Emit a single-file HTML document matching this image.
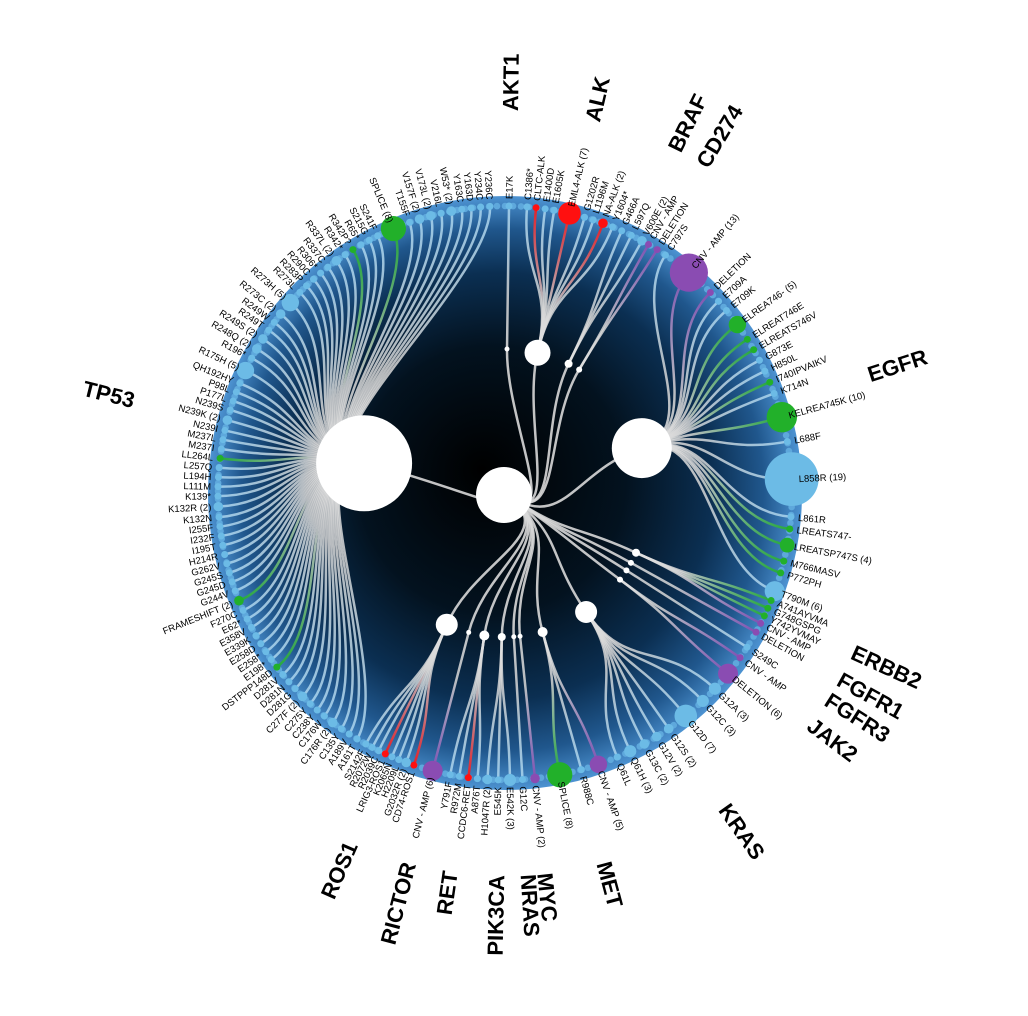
<!DOCTYPE html>
<html><head><meta charset="utf-8"><title>Mutation radial tree</title>
<style>
html,body{margin:0;padding:0;background:#fff;}
svg{display:block;font-family:"Liberation Sans",Arial,sans-serif;}
</style></head>
<body>
<svg id="chart" width="1028" height="1016" viewBox="0 0 1028 1016" xmlns="http://www.w3.org/2000/svg">
<defs>
<radialGradient id="bgGrad" cx="50%" cy="50%" r="50%" fx="46%" fy="46%">
<stop offset="0" stop-color="#000000"/>
<stop offset="0.45" stop-color="#03121f"/>
<stop offset="0.72" stop-color="#0b2f52"/>
<stop offset="0.88" stop-color="#20578d"/>
<stop offset="1" stop-color="#4d93d2"/>
</radialGradient>
</defs>
<circle cx="505" cy="493" r="297" fill="url(#bgGrad)"/>
<g id="beads"></g><g id="links"></g><g id="nodes"></g><g id="labels"></g>
</svg>
<script>
const genes = ["AKT1","ALK","BRAF","CD274","EGFR","ERBB2","FGFR1","FGFR3","JAK2","KRAS","MET","MYC","NRAS","PIK3CA","RET","RICTOR","ROS1","TP53"];
const geneWeight = [2.5,13,4,3,30,4,3,3,3,11,5,2.5,2.5,4,5,2.5,11,48];
const leafNames = [
 ["E17K"],
 ["C1386*","CLTC-ALK","E1400D","E1605K","EML4-ALK","G1202R","L1196M","NA-ALK","Y1604*"],
 ["G466A","L597Q","V600E"],
 ["CNV - AMP","DELETION"],
 ["C797S","CNV - AMP","DELETION","E709A","E709K","ELREA746-","ELREAT746E","ELREATS746V","G873E","H850L","I740IPVAIKV","K714N","KELREA745K","L688F","L858R","L861R","LREATS747-","LREATSP747S","M766MASV","P772PH","T790M"],
 ["A741AYVMA","G748GSPG","Y742YVMAY","CNV - AMP"],
 ["DELETION"],
 ["S249C"],
 ["CNV - AMP","DELETION"],
 ["G12A","G12C","G12D","G12S","G12V","G13C","Q61H","Q61L"],
 ["CNV - AMP","R988C","SPLICE"],
 ["CNV - AMP"],
 ["G12C"],
 ["E542K","E545K","H1047R"],
 ["A876T","CCDC6-RET","R972M","Y791F"],
 ["CNV - AMP"],
 ["CD74-ROS1","G2032R","H2209L","K2065N","LRIG3-ROS1","R2039C","R2072W","S2142F"],
 ["A161T","A189V","C135Y","C176R","C176W","C238Y","C275Y","C277F","D281G","D281N","D281V","DSTPPP148D","E198*","E258*","E258D","E339K","E358V","E62*","F270C","FRAMESHIFT","G244V","G245D","G245S","G262V","H214R","I195T","I232F","I255F","K132N","K132R","K139*","L111M","L194H","L257Q","LL264L","M237I","M237L","N239I","N239K","N239S","P177L","P98L","QH192HY","R175H","R196*","R248Q","R249S","R249T","R249W","R273C","R273H","R273L","R283P","R290C","R306*","R337C","R337L","R342*","R342P?","R65*","S215G","S241F","SPLICE","T155F","V157F","V173L","V216L","W53*","Y163C","Y163D","Y234C","Y236C"]
];
const leafCounts = [
 [1],
 [1,1,1,1,7,1,1,2,1],
 [1,1,2],
 [1,1],
 [1,13,1,1,1,5,1,1,1,1,1,1,10,1,19,1,1,4,1,1,6],
 [1,1,1,1],
 [1],
 [1],
 [1,6],
 [3,3,7,2,2,2,3,1],
 [5,1,8],
 [2],
 [1],
 [3,1,2],
 [1,1,1,1],
 [6],
 [1,2,1,1,1,1,1,1],
 [1,1,1,2,1,1,1,2,1,1,1,1,1,1,1,1,1,1,1,2,1,1,1,1,1,1,1,1,1,2,1,1,1,1,1,1,1,1,2,1,1,1,1,5,1,2,2,1,1,2,5,1,1,1,1,1,2,1,1,1,1,1,8,1,2,2,1,2,1,1,1,1]
];
const indelNames = ["SPLICE","FRAMESHIFT","DSTPPP148D","LL264L","R342P?","ELREA746-","ELREAT746E","ELREATS746V","I740IPVAIKV","KELREA745K","LREATS747-","LREATSP747S","M766MASV","P772PH","A741AYVMA","G748GSPG","Y742YVMAY"];

// layout (angular span in degrees for each gene's leaves, clockwise from top)
const spanStart = [0.8,4.4,24,30,34,112,119,122.5,125,133,161,174,176.5,179,185.5,194.6,198.5,211];
const spanEnd   = [0.8,22,28.5,32,110,117,119,122.5,129,157,169,174,176.5,183.5,191,194.6,209,357];

const CX=505, CY=493, R_LEAF=287, R_HUB=144, ROOT_ANGLE=125;
const NS="http://www.w3.org/2000/svg";
const gBeads=document.getElementById('beads'), gLinks=document.getElementById('links'), gNodes=document.getElementById('nodes'), gLabels=document.getElementById('labels');
const defs=document.querySelector('defs');

function pt(a,r){const t=a*Math.PI/180;return [CX+r*Math.sin(t), CY-r*Math.cos(t)];}
function radialPath(a1,r1,a2,r2){const m=(r1+r2)/2;const p0=pt(a1,r1),c1=pt(a1,m),c2=pt(a2,m),p3=pt(a2,r2);
 return `M${p0[0]},${p0[1]}C${c1[0]},${c1[1]} ${c2[0]},${c2[1]} ${p3[0]},${p3[1]}`;}
function leafRadius(c){return 3.5+1.3*(c-1);}
function leafColor(n){
 if(/CNV|DELETION/.test(n)) return "#8a4cb2";
 if(/-(ALK|RET|ROS1)$/.test(n)) return "#ff1010";
 if(indelNames.indexOf(n)>=0) return "#22b02a";
 return "#6cbbe6";
}
function el(tag,attrs){const e=document.createElementNS(NS,tag);for(const k in attrs)e.setAttribute(k,attrs[k]);return e;}
function slug(s){return s.toLowerCase().replace(/[^a-z0-9]+/g,'-').replace(/^-|-$/g,'');}

// decorative bead ring along disk edge
for(let a=0;a<360;a+=1.6){
 const p=pt(a,R_LEAF);
 const b=el('circle',{cx:p[0],cy:p[1],r:3.3,fill:'#5ea8dc'});
 
 
 gBeads.appendChild(b);
}

const leafAngles = genes.map((g,gi)=>{
 const cs=leafCounts[gi], n=cs.length;
 if(n===1) return [(spanStart[gi]+spanEnd[gi])/2];
 const gaps=[];for(let i=0;i<n-1;i++)gaps.push(leafRadius(cs[i])+leafRadius(cs[i+1])+4);
 const tot=gaps.reduce((a,b)=>a+b,0);const out=[spanStart[gi]];let acc=0;
 for(let i=0;i<n-1;i++){acc+=gaps[i];out.push(spanStart[gi]+(spanEnd[gi]-spanStart[gi])*acc/tot);}
 return out;
});
const hubAngles = leafAngles.map(a=>a.reduce((s,v)=>s+v,0)/a.length);

let gid=0;
genes.forEach((g,gi)=>{
 const ha=hubAngles[gi];
 const rl=el('path',{d:radialPath(ROOT_ANGLE,0,ha,R_HUB),fill:'none',stroke:'#d8d8d8','stroke-width':2.5,'stroke-opacity':0.9});
 
 
 gLinks.appendChild(rl);
 const hp=pt(ha,R_HUB);
 leafNames[gi].forEach((n,li)=>{
  const a=leafAngles[gi][li], c=leafCounts[gi][li], col=leafColor(n);
  const lp=pt(a,R_LEAF);
  const id='lg'+(gid++);
  const lg=el('linearGradient',{id:id,gradientUnits:'userSpaceOnUse',x1:hp[0],y1:hp[1],x2:lp[0],y2:lp[1]});
  lg.appendChild(el('stop',{offset:0,'stop-color':'#e2e2e2'}));
  lg.appendChild(el('stop',{offset:0.35,'stop-color':'#d6d6d6'}));
  lg.appendChild(el('stop',{offset:1,'stop-color':col==="#6cbbe6"?"#a9d5ef":col}));
  defs.appendChild(lg);
  const p=el('path',{d:radialPath(ha,R_HUB,a,R_LEAF),fill:'none',stroke:`url(#${id})`,'stroke-width':2.5,'stroke-opacity':0.85});
  
  
  gLinks.appendChild(p);
  const d=el('circle',{cx:lp[0],cy:lp[1],r:leafRadius(c),fill:col});
  
  
  gNodes.appendChild(d);
  const flip=a>180;
  const t=el('text',{transform:`translate(${CX},${CY}) rotate(${a-90}) translate(294,0)${flip?' rotate(180)':''}`,'text-anchor':flip?'end':'start',dy:'0.35em','font-size':'9.5',fill:'#000'});
  t.textContent=n+(c>1?` (${c})`:'');
  
  
  gLabels.appendChild(t);
 });
 const h=el('circle',{cx:hp[0],cy:hp[1],r:geneWeight[gi],fill:'#fff'});
 
 
 gNodes.appendChild(h);
 const ga=(spanStart[gi]+spanEnd[gi])/2, flip=ga>180;
 const gt=el('text',{transform:`translate(${CX},${CY}) rotate(${ga-90}) translate(382,0)${flip?' rotate(180)':''}`,'text-anchor':flip?'end':'start',dy:'0.35em','font-size':'22','font-weight':'bold',fill:'#000'});
 gt.textContent=g;
 
 
 gLabels.appendChild(gt);
});
const root=el('circle',{cx:CX-1,cy:CY+2,r:28,fill:'#fff'});


gNodes.appendChild(root);
</script>
</body></html>
